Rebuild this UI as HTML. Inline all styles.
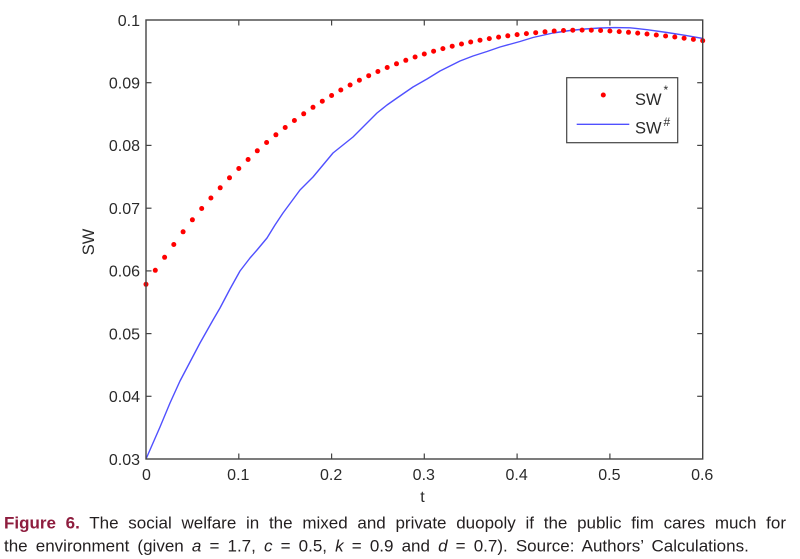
<!DOCTYPE html>
<html>
<head>
<meta charset="utf-8">
<style>
html,body{margin:0;padding:0;background:#fff;}
body{width:800px;height:559px;overflow:hidden;}
svg{display:block;}
text{font-family:"Liberation Sans",Arial,sans-serif;}
</style>
</head>
<body>
<svg width="800" height="559" viewBox="0 0 800 559" xmlns="http://www.w3.org/2000/svg">
<rect x="0" y="0" width="800" height="559" fill="#fff"/>

<polyline fill="none" stroke="#5050ff" stroke-width="1.4" stroke-linejoin="round"
points="146,459 153,443 160,427 170,403 180,381 190,362 200,343 213,320 220,308 230,289 240,271 250,258 257,250 267,238 275,225 283,213 300,190 313,177 323,165 333,153 343,145 353,137 365,125 377,113 387,105 397,98 413,87 427,79 440,71 460,61 473,56 487,51.5 500,47 520,41.5 533,37.5 553,33 570,30.5 585,29 600,28 615,27.6 630,27.8 648,29.8 667,32.5 685,35.3 703,38.5"/>

<g fill="#ff0000">
<circle cx="146.0" cy="284.3" r="2.5"/>
<circle cx="155.3" cy="270.3" r="2.5"/>
<circle cx="164.6" cy="257.3" r="2.5"/>
<circle cx="173.8" cy="244.5" r="2.5"/>
<circle cx="183.1" cy="231.8" r="2.5"/>
<circle cx="192.4" cy="219.8" r="2.5"/>
<circle cx="201.7" cy="208.5" r="2.5"/>
<circle cx="210.9" cy="198.0" r="2.5"/>
<circle cx="220.2" cy="187.8" r="2.5"/>
<circle cx="229.5" cy="177.8" r="2.5"/>
<circle cx="238.8" cy="168.5" r="2.5"/>
<circle cx="248.1" cy="159.5" r="2.5"/>
<circle cx="257.3" cy="150.8" r="2.5"/>
<circle cx="266.6" cy="142.5" r="2.5"/>
<circle cx="275.9" cy="134.8" r="2.5"/>
<circle cx="285.2" cy="127.5" r="2.5"/>
<circle cx="294.4" cy="120.5" r="2.5"/>
<circle cx="303.7" cy="113.8" r="2.5"/>
<circle cx="313.0" cy="107.3" r="2.5"/>
<circle cx="322.3" cy="101.2" r="2.5"/>
<circle cx="331.6" cy="95.5" r="2.5"/>
<circle cx="340.8" cy="90.0" r="2.5"/>
<circle cx="350.1" cy="85.0" r="2.5"/>
<circle cx="359.4" cy="80.2" r="2.5"/>
<circle cx="368.7" cy="75.7" r="2.5"/>
<circle cx="377.9" cy="71.5" r="2.5"/>
<circle cx="387.2" cy="67.5" r="2.5"/>
<circle cx="396.5" cy="63.8" r="2.5"/>
<circle cx="405.8" cy="60.3" r="2.5"/>
<circle cx="415.1" cy="57.0" r="2.5"/>
<circle cx="424.3" cy="54.0" r="2.5"/>
<circle cx="433.6" cy="51.2" r="2.5"/>
<circle cx="442.9" cy="48.6" r="2.5"/>
<circle cx="452.2" cy="46.2" r="2.5"/>
<circle cx="461.5" cy="44.0" r="2.5"/>
<circle cx="470.7" cy="42.0" r="2.5"/>
<circle cx="480.0" cy="40.2" r="2.5"/>
<circle cx="489.3" cy="38.6" r="2.5"/>
<circle cx="498.6" cy="37.1" r="2.5"/>
<circle cx="507.8" cy="35.8" r="2.5"/>
<circle cx="517.1" cy="34.6" r="2.5"/>
<circle cx="526.4" cy="33.6" r="2.5"/>
<circle cx="535.7" cy="32.7" r="2.5"/>
<circle cx="545.0" cy="31.8" r="2.5"/>
<circle cx="554.2" cy="31.0" r="2.5"/>
<circle cx="563.5" cy="30.5" r="2.5"/>
<circle cx="572.8" cy="30.2" r="2.5"/>
<circle cx="582.1" cy="30.1" r="2.5"/>
<circle cx="591.3" cy="30.2" r="2.5"/>
<circle cx="600.6" cy="30.5" r="2.5"/>
<circle cx="609.9" cy="31.0" r="2.5"/>
<circle cx="619.2" cy="31.6" r="2.5"/>
<circle cx="628.5" cy="32.3" r="2.5"/>
<circle cx="637.7" cy="33.1" r="2.5"/>
<circle cx="647.0" cy="34.0" r="2.5"/>
<circle cx="656.3" cy="35.0" r="2.5"/>
<circle cx="665.6" cy="36.0" r="2.5"/>
<circle cx="674.8" cy="37.0" r="2.5"/>
<circle cx="684.1" cy="38.2" r="2.5"/>
<circle cx="693.4" cy="39.4" r="2.5"/>
<circle cx="702.7" cy="40.7" r="2.5"/>
</g>

<rect x="146" y="20" width="556.7" height="439" fill="none" stroke="#444" stroke-width="1.4"/>

<g stroke="#444" stroke-width="1.2">
<line x1="238.8" y1="459" x2="238.8" y2="453.5"/><line x1="238.8" y1="20" x2="238.8" y2="25.5"/>
<line x1="331.6" y1="459" x2="331.6" y2="453.5"/><line x1="331.6" y1="20" x2="331.6" y2="25.5"/>
<line x1="424.3" y1="459" x2="424.3" y2="453.5"/><line x1="424.3" y1="20" x2="424.3" y2="25.5"/>
<line x1="517.1" y1="459" x2="517.1" y2="453.5"/><line x1="517.1" y1="20" x2="517.1" y2="25.5"/>
<line x1="609.9" y1="459" x2="609.9" y2="453.5"/><line x1="609.9" y1="20" x2="609.9" y2="25.5"/>
<line x1="146" y1="396.3" x2="151.5" y2="396.3"/><line x1="702.7" y1="396.3" x2="697.2" y2="396.3"/>
<line x1="146" y1="333.6" x2="151.5" y2="333.6"/><line x1="702.7" y1="333.6" x2="697.2" y2="333.6"/>
<line x1="146" y1="270.9" x2="151.5" y2="270.9"/><line x1="702.7" y1="270.9" x2="697.2" y2="270.9"/>
<line x1="146" y1="208.2" x2="151.5" y2="208.2"/><line x1="702.7" y1="208.2" x2="697.2" y2="208.2"/>
<line x1="146" y1="145.4" x2="151.5" y2="145.4"/><line x1="702.7" y1="145.4" x2="697.2" y2="145.4"/>
<line x1="146" y1="82.7" x2="151.5" y2="82.7"/><line x1="702.7" y1="82.7" x2="697.2" y2="82.7"/>
</g>

<g font-size="16" fill="#2a2a2a" text-anchor="end">
<text x="140" y="464.8">0.03</text>
<text x="140" y="402.1">0.04</text>
<text x="140" y="339.4">0.05</text>
<text x="140" y="276.7">0.06</text>
<text x="140" y="214.0">0.07</text>
<text x="140" y="151.2">0.08</text>
<text x="140" y="88.5">0.09</text>
<text x="140" y="25.8">0.1</text>
</g>

<g font-size="16" fill="#2a2a2a" text-anchor="middle">
<text x="146.5" y="480">0</text>
<text x="238.3" y="480">0.1</text>
<text x="331.1" y="480">0.2</text>
<text x="423.8" y="480">0.3</text>
<text x="516.6" y="480">0.4</text>
<text x="609.4" y="480">0.5</text>
<text x="702.2" y="480">0.6</text>
</g>

<text x="422.5" y="502" font-size="16" fill="#2a2a2a" text-anchor="middle">t</text>
<text transform="translate(94,242) rotate(-90)" font-size="16.5" fill="#2a2a2a" text-anchor="middle">SW</text>

<rect x="566.7" y="77.7" width="111" height="65" fill="#fff" stroke="#444" stroke-width="1.2"/>
<circle cx="603.3" cy="95" r="2.5" fill="#ff0000"/>
<line x1="576.7" y1="124.3" x2="629.3" y2="124.3" stroke="#5050ff" stroke-width="1.4"/>
<text x="635" y="105" font-size="16.5" fill="#2a2a2a">SW</text>
<text x="663.5" y="94" font-size="12" fill="#2a2a2a">*</text>
<text x="635" y="133.5" font-size="16.5" fill="#2a2a2a">SW</text>
<text x="663.5" y="126" font-size="12" fill="#2a2a2a">#</text>

<text x="4" y="528.3" font-size="17" fill="#231f20" style="word-spacing:5px"><tspan fill="#8e1d3e" font-weight="bold">Figure 6.</tspan> The social welfare in the mixed and private duopoly if the public fim cares much for</text>
<text x="4" y="551.7" font-size="17" fill="#231f20" style="word-spacing:3.4px">the environment (given <tspan font-style="italic">a</tspan> = 1.7, <tspan font-style="italic">c</tspan> = 0.5, <tspan font-style="italic">k</tspan> = 0.9 and <tspan font-style="italic">d</tspan> = 0.7). Source: Authors’ Calculations.</text>
</svg>
</body>
</html>
